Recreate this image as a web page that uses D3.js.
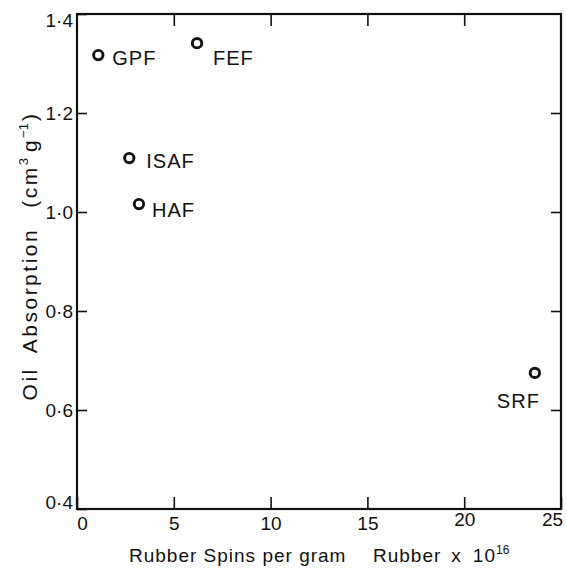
<!DOCTYPE html>
<html>
<head>
<meta charset="utf-8">
<script src="https://cdn.jsdelivr.net/npm/d3@7"></script>
<style>
  body { margin: 0; background: #fff; }
  text { font-family: "Liberation Sans", Arial, sans-serif; fill: #111; }
</style>
</head>
<body>
<div id="chart"></div>
<script>
// carbon black grades
const grades = ["GPF", "FEF", "ISAF", "HAF", "SRF"];
const spins = [1.1, 6.2, 2.7, 3.2, 23.65];       // rubber spins per gram rubber x 10^16
const oilAbs = [1.317, 1.341, 1.109, 1.016, 0.675]; // cm3 g-1
const xTicks = [0, 5, 10, 15, 20, 25];
const yTicks = [0.4, 0.6, 0.8, 1.0, 1.2, 1.4];

// label placement next to each marker (px)
const labelDx = [14, 16, 17, 13, -38];
const labelDy = [10, 22, 10, 13, 35];

var margin = {top: 14, left: 77, right: 6, bottom: 63};
var W = 567, H = 572;
var w = W - margin.left - margin.right;
var h = H - margin.top - margin.bottom;

const svg = d3.select("#chart")
              .append("svg")
              .attr("width", W)
              .attr("height", H);

const g = svg.append("g")
             .attr("transform", "translate(" + margin.left + "," + margin.top + ")");

var x = d3.scaleLinear().domain([0, 25]).range([0, w]);
var y = d3.scaleLinear().domain([0.4, 1.4]).range([h, 0]);

var fmtY = d => d3.format(".1f")(d).replace(".", "\u00b7");

// axes, ticks pointing inward
var gx = g.append("g")
   .attr("transform", "translate(0," + h + ")")
   .call(d3.axisBottom(x).tickValues(xTicks).tickSize(-12).tickPadding(8));
var gy = g.append("g")
   .call(d3.axisLeft(y).tickValues(yTicks).tickSize(-10).tickPadding(4).tickFormat(fmtY));
var gt = g.append("g")
   .call(d3.axisTop(x).tickValues(xTicks.slice(1, -1)).tickSize(-12).tickFormat(""));
var gr = g.append("g")
   .attr("transform", "translate(" + w + ",0)")
   .call(d3.axisRight(y).tickValues(yTicks.slice(1, -1)).tickSize(-10).tickFormat(""));

[gx, gy, gt, gr].forEach(a => {
  a.select(".domain").remove();
  a.selectAll(".tick line").attr("stroke", "#111").attr("stroke-width", 1.6);
  a.selectAll(".tick text").attr("font-size", "19px").attr("fill", "#111");
});

// end labels sit a little off their ticks in the original
gx.selectAll(".tick text")
  .attr("dx", d => d == 0 ? 5 : (d == 25 ? -9 : 0))
  .attr("y", d => d >= 20 ? 4 : 8);
gy.selectAll(".tick text")
  .attr("dy", d => d == 0.4 ? "-0.05em" : (d == 1.4 ? "0.65em" : "0.32em"));

// frame
g.append("rect")
 .attr("x", 0).attr("y", 0)
 .attr("width", w).attr("height", h)
 .attr("fill", "none")
 .attr("stroke", "#111")
 .attr("stroke-width", 2.2);

// markers
var pts = g.selectAll(".pt")
  .data(grades)
  .enter()
  .append("g")
  .attr("class", "pt");

pts.append("circle")
   .attr("cx", (d, i) => x(spins[i]))
   .attr("cy", (d, i) => y(oilAbs[i]))
   .attr("r", 4.7)
   .attr("fill", "none")
   .attr("stroke", "#111")
   .attr("stroke-width", 2.9);

pts.append("text")
   .attr("x", (d, i) => x(spins[i]) + labelDx[i])
   .attr("y", (d, i) => y(oilAbs[i]) + labelDy[i])
   .attr("font-size", "20px")
   .attr("letter-spacing", "1px")
   .text(d => d);

// axis titles
svg.append("text")
   .attr("x", 129)
   .attr("y", 562)
   .attr("font-size", "19px")
   .attr("letter-spacing", "1px")
   .text("Rubber Spins per gram");

var xt = svg.append("text")
   .attr("x", 373)
   .attr("y", 562)
   .attr("font-size", "19px")
   .attr("letter-spacing", "1px");
xt.append("tspan").text("Rubber");
xt.append("tspan").attr("dx", 10).text("x");
xt.append("tspan").attr("dx", 11).text("10");
xt.append("tspan").attr("dy", -8).attr("font-size", "12px").attr("letter-spacing", "0px").text("16");

var yt = svg.append("text")
   .attr("transform", "translate(37,256)rotate(-90)")
   .attr("text-anchor", "middle")
   .attr("font-size", "21px")
   .attr("letter-spacing", "2.5px");
yt.append("tspan").text("Oil");
yt.append("tspan").attr("dx", 14).text("Absorption");
yt.append("tspan").attr("dx", 20).text("(cm");
yt.append("tspan").attr("dy", -9).attr("font-size", "13px").attr("letter-spacing", "0px").text("3");
yt.append("tspan").attr("dy", 9).attr("dx", 6).text("g");
yt.append("tspan").attr("dy", -9).attr("font-size", "13px").attr("letter-spacing", "0px").text("\u22121");
yt.append("tspan").attr("dy", 9).attr("dx", 2).text(")");
</script>
</body>
</html>
